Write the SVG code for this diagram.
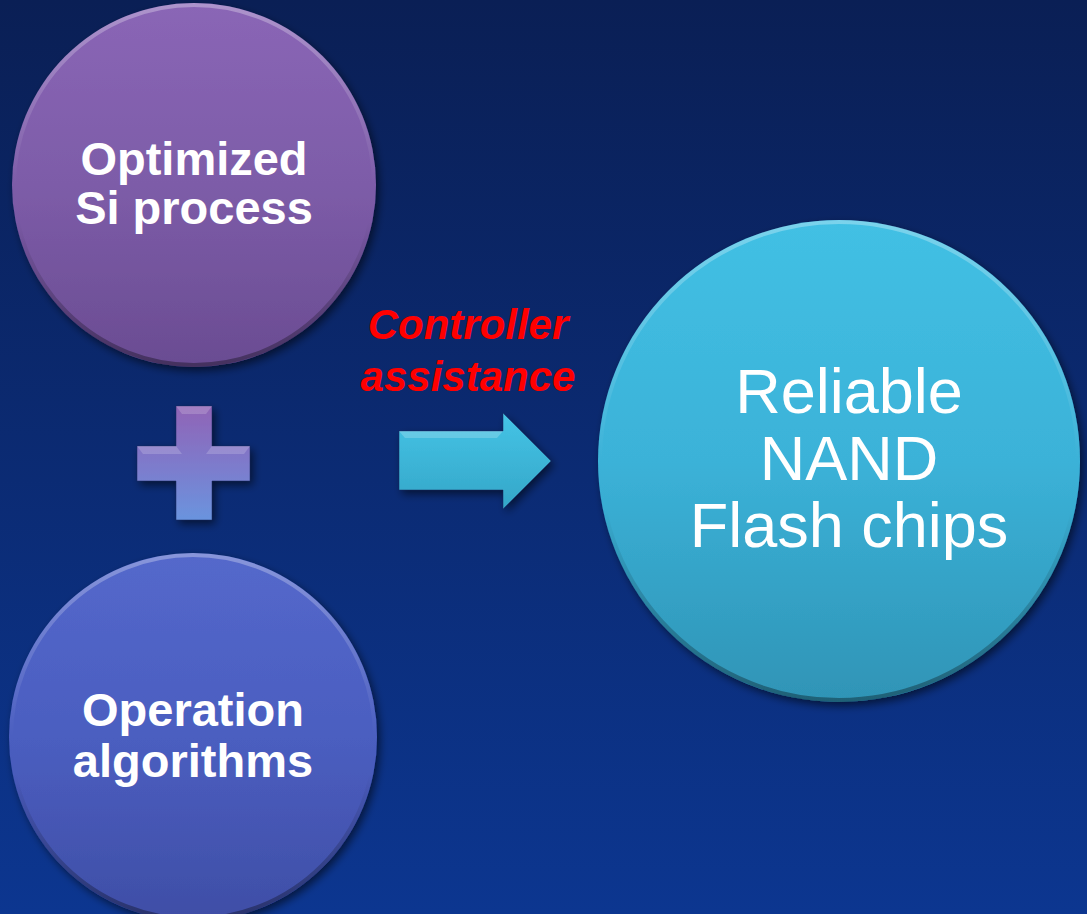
<svg xmlns="http://www.w3.org/2000/svg" width="1087" height="914" viewBox="0 0 1087 914">
  <defs>
    <linearGradient id="bg" x1="0" y1="0" x2="0" y2="1">
      <stop offset="0" stop-color="#0a1f55"/>
      <stop offset="1" stop-color="#0c3690"/>
    </linearGradient>
    <linearGradient id="gPurple" x1="0" y1="0" x2="0" y2="1">
      <stop offset="0" stop-color="#8a66b6"/>
      <stop offset="0.5" stop-color="#7d5ca8"/>
      <stop offset="1" stop-color="#6a4c92"/>
    </linearGradient>
    <linearGradient id="gBlue" x1="0" y1="0" x2="0" y2="1">
      <stop offset="0" stop-color="#5468cb"/>
      <stop offset="0.5" stop-color="#4b5ec0"/>
      <stop offset="1" stop-color="#3f4ea6"/>
    </linearGradient>
    <linearGradient id="gCyan" x1="0" y1="0" x2="0" y2="1">
      <stop offset="0" stop-color="#42c0e4"/>
      <stop offset="0.5" stop-color="#3bb2d8"/>
      <stop offset="1" stop-color="#2f94b6"/>
    </linearGradient>
    <linearGradient id="gPlus" x1="0" y1="0" x2="0" y2="1">
      <stop offset="0" stop-color="#9064b6"/>
      <stop offset="0.5" stop-color="#7e7acb"/>
      <stop offset="1" stop-color="#6a94de"/>
    </linearGradient>
    <linearGradient id="gArrow" x1="0" y1="0" x2="0" y2="1">
      <stop offset="0" stop-color="#45c4e6"/>
      <stop offset="1" stop-color="#34a6c8"/>
    </linearGradient>
    <linearGradient id="rim" x1="0" y1="0" x2="0" y2="1">
      <stop offset="0" stop-color="#ffffff" stop-opacity="0.3"/>
      <stop offset="0.5" stop-color="#ffffff" stop-opacity="0"/>
      <stop offset="0.6" stop-color="#000000" stop-opacity="0"/>
      <stop offset="1" stop-color="#000000" stop-opacity="0.35"/>
    </linearGradient>
    <filter id="shadow" x="-20%" y="-20%" width="140%" height="140%">
      <feGaussianBlur in="SourceAlpha" stdDeviation="4"/>
      <feOffset dx="3" dy="4" result="b"/>
      <feComponentTransfer><feFuncA type="linear" slope="0.55"/></feComponentTransfer>
      <feMerge><feMergeNode/><feMergeNode in="SourceGraphic"/></feMerge>
    </filter>
    <style>
      .rim { fill: none; stroke: url(#rim); stroke-width: 4; }
      .bold { font-family: "Liberation Sans", Arial, sans-serif; font-weight: bold; fill: #ffffff; text-anchor: middle; font-size: 47px; }
      .big { font-family: "Liberation Sans", Arial, sans-serif; fill: #ffffff; text-anchor: middle; font-size: 63px; }
      .red { font-family: "Liberation Sans", Arial, sans-serif; font-weight: bold; font-style: italic; fill: #ff0000; text-anchor: middle; font-size: 42px; }
      .edge { fill: none; stroke: #1a2a60; stroke-opacity: 0.5; stroke-width: 1; }
    </style>
  </defs>

  <rect x="0" y="0" width="1087" height="914" fill="url(#bg)"/>

  <g id="node-si-process">
    <circle cx="194" cy="185" r="182" fill="url(#gPurple)" filter="url(#shadow)"/>
    <circle cx="194" cy="185" r="180" class="rim"/>
    <text class="bold" x="194" y="175">Optimized</text>
    <text class="bold" x="194" y="224">Si process</text>
  </g>

  <g id="node-plus">
    <path d="M176,406 H212 V446 H250 V481 H212 V520 H176 V481 H137 V446 H176 Z" fill="url(#gPlus)" filter="url(#shadow)"/>
    <path d="M176,406 H212 V446 H250 V481 H212 V520 H176 V481 H137 V446 H176 Z" class="edge"/>
    <path d="M176,406 H212 L206,414 H182 Z M137,446 H176 L182,454 H143 Z M212,446 H250 L244,454 H206 Z" fill="#ffffff" fill-opacity="0.18"/>
  </g>

  <g id="node-algorithms">
    <circle cx="193" cy="737" r="184" fill="url(#gBlue)" filter="url(#shadow)"/>
    <circle cx="193" cy="737" r="182" class="rim"/>
    <text class="bold" x="193" y="726">Operation</text>
    <text class="bold" x="193" y="777">algorithms</text>
  </g>

  <g id="connectors">
    <path d="M399,431 H503 V413 L551,461 L503,509 V490 H399 Z" fill="url(#gArrow)" filter="url(#shadow)"/>
    <path d="M399,431 H503 V413 L551,461 L503,509 V490 H399 Z" class="edge"/>
    <path d="M399,431 H503 L497,438 H405 Z" fill="#ffffff" fill-opacity="0.2"/>
    <text class="red" x="468" y="339">Controller</text>
    <text class="red" x="468" y="391">assistance</text>
  </g>

  <g id="node-nand">
    <circle cx="839" cy="461" r="241" fill="url(#gCyan)" filter="url(#shadow)"/>
    <circle cx="839" cy="461" r="239" class="rim"/>
    <text class="big" x="849" y="413">Reliable</text>
    <text class="big" x="849" y="480">NAND</text>
    <text class="big" x="849" y="547">Flash chips</text>
  </g>
</svg>
